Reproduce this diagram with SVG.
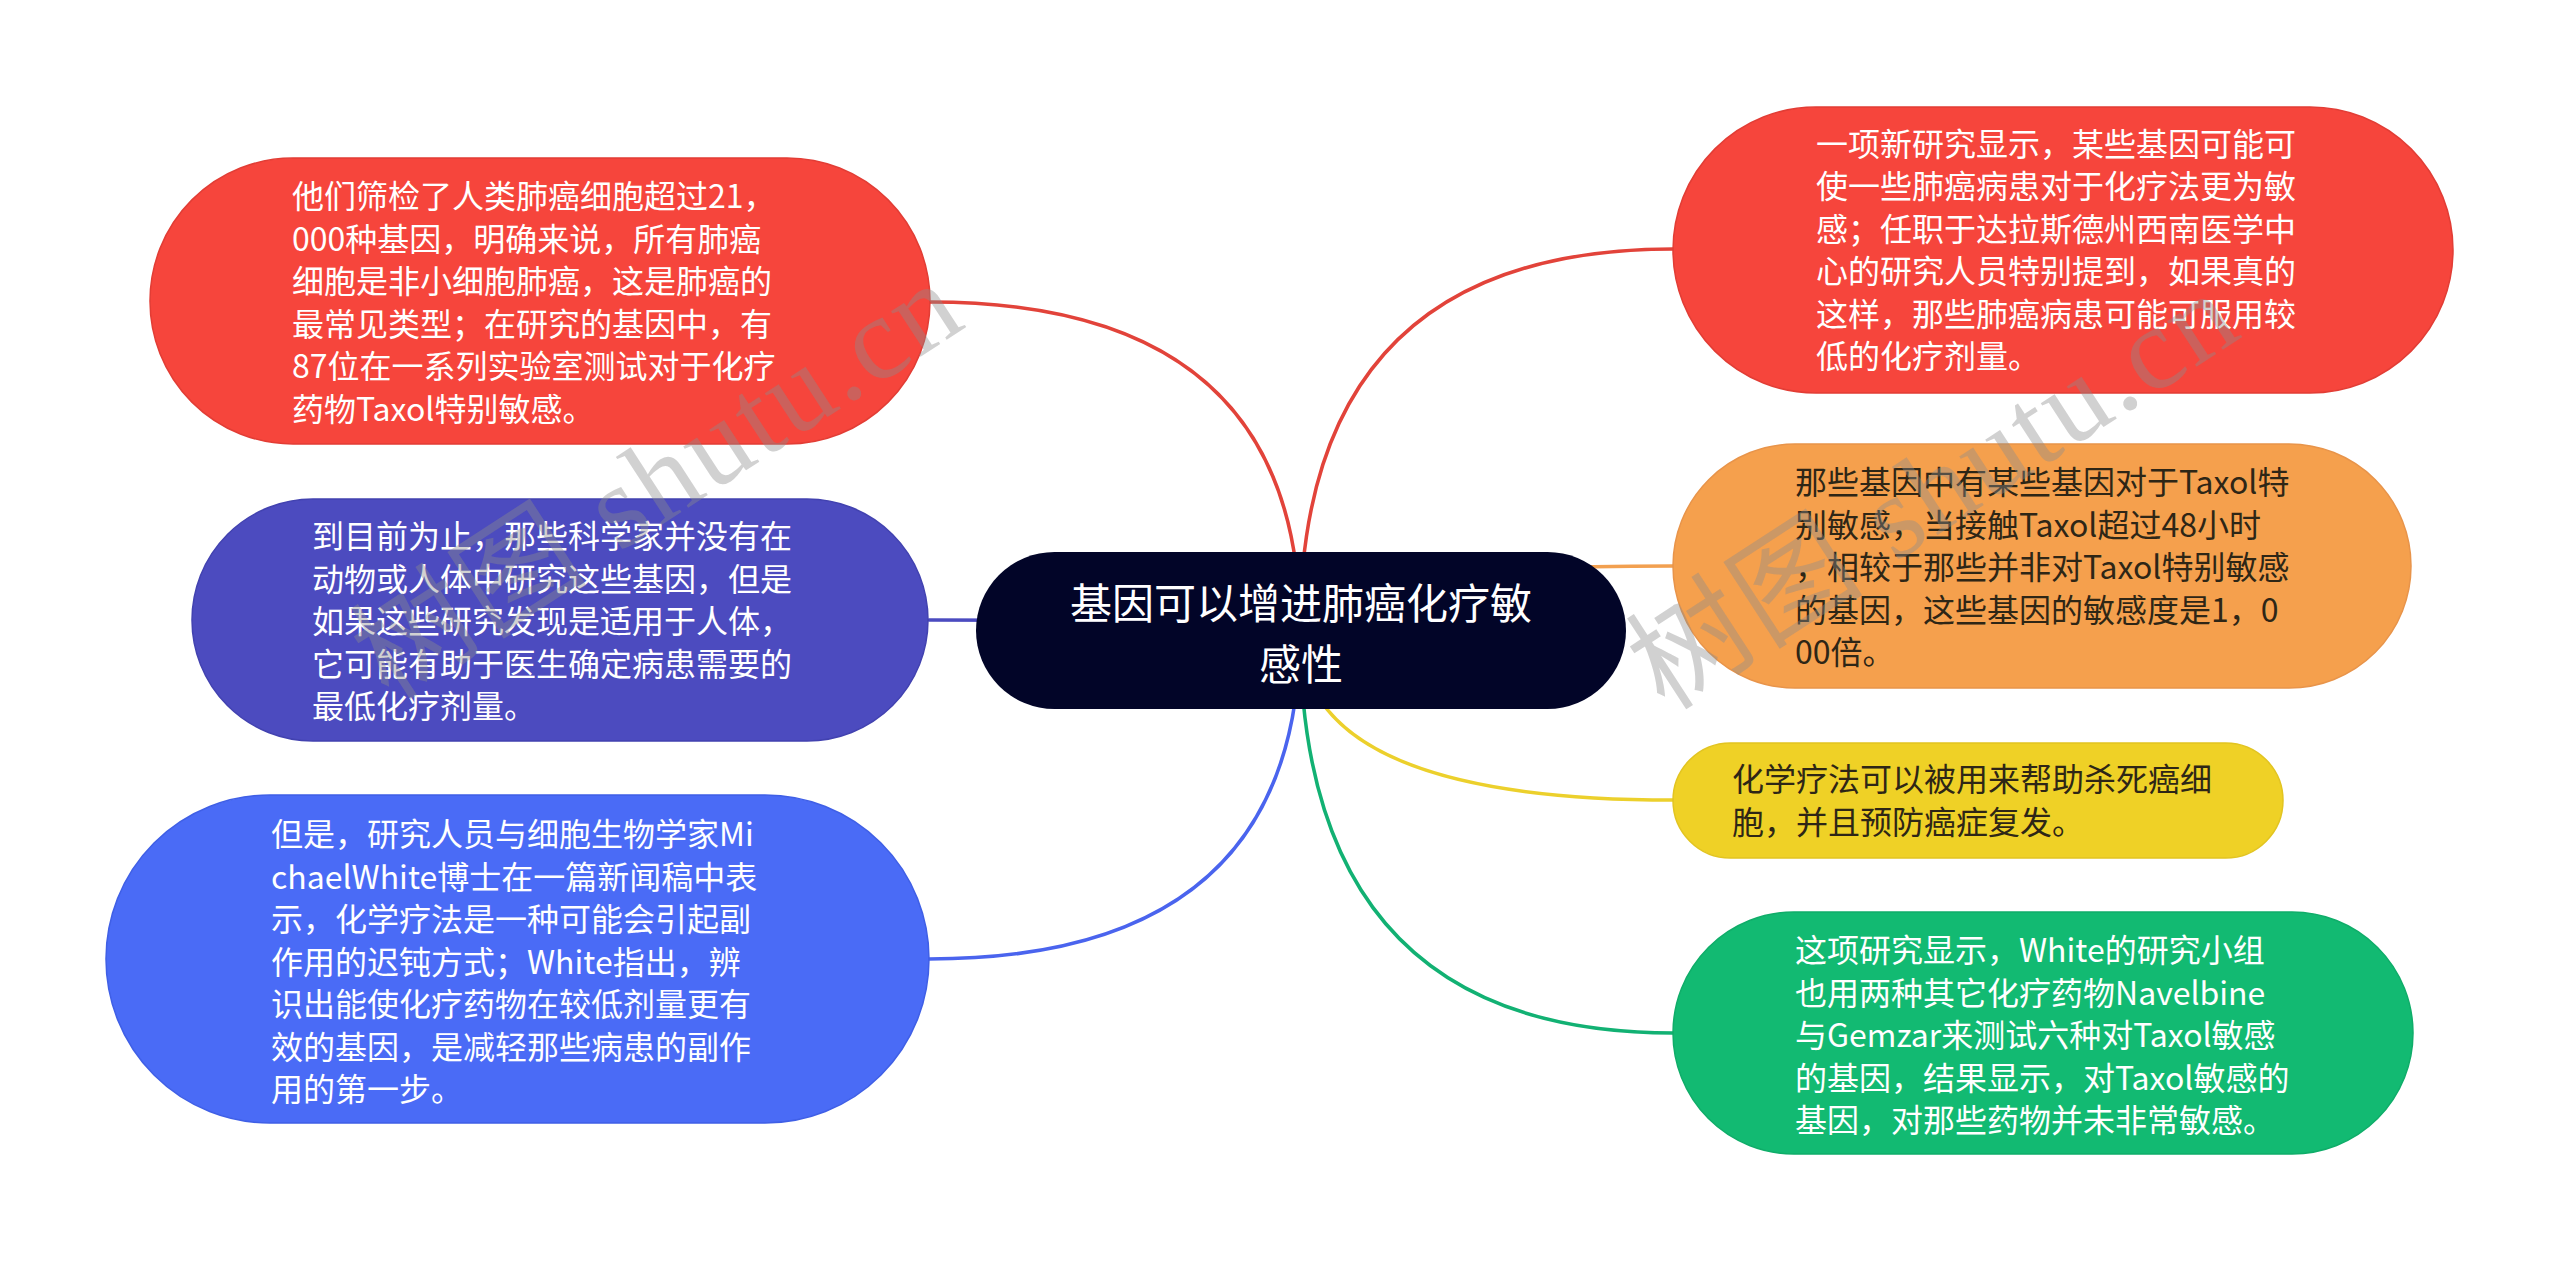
<svg xmlns="http://www.w3.org/2000/svg" width="2560" height="1262" viewBox="0 0 2560 1262">
<style>
.t{font-family:"Noto Sans CJK SC","Noto Sans",sans-serif;font-size:32px}
.w{fill:#ffffff}
.d{fill:#2e2616}
.c{font-family:"Noto Sans CJK SC","Noto Sans",sans-serif;font-size:42px;fill:#ffffff;text-anchor:middle}
.link{fill:none;stroke-width:3.5;stroke-linecap:round}
.wm{font-family:"Liberation Serif","Noto Sans CJK SC",serif;font-size:118px;fill:#8c8c8c;fill-opacity:0.4}
</style>
<rect width="2560" height="1262" fill="#ffffff"/>
<g id="connectors">
<path class="link" stroke="#e2433a" d="M 930 302 Q 1300 302 1300 630"/>
<path class="link" stroke="#4b4bc0" d="M 929 620 Q 1300 620 1300 630"/>
<path class="link" stroke="#4a64ee" d="M 929 959 Q 1300 959 1300 630"/>
<path class="link" stroke="#e2433a" d="M 1673 249 Q 1300 249 1300 630"/>
<path class="link" stroke="#f2a050" d="M 1673 566 Q 1300 566 1300 630"/>
<path class="link" stroke="#ecd02c" d="M 1673 800 Q 1300 800 1300 630"/>
<path class="link" stroke="#12b173" d="M 1673 1033 Q 1300 1033 1300 630"/>
</g>
<g id="node-left-1">
<rect x="150" y="158" width="780" height="286" rx="143" ry="143" fill="#f6453c" stroke="#e23d35" stroke-width="1.5"/>
<text class="t w"><tspan x="292" y="208">他们筛检了人类肺癌细胞超过21，</tspan><tspan x="292" y="250.5">000种基因，明确来说，所有肺癌</tspan><tspan x="292" y="293">细胞是非小细胞肺癌，这是肺癌的</tspan><tspan x="292" y="335.5">最常见类型；在研究的基因中，有</tspan><tspan x="292" y="378">87位在一系列实验室测试对于化疗</tspan><tspan x="292" y="420.5">药物Taxol特别敏感。</tspan></text>
</g>
<g id="node-left-2">
<rect x="192" y="499" width="736" height="242" rx="121" ry="121" fill="#4c4bbf" stroke="#4242b0" stroke-width="1.5"/>
<text class="t w"><tspan x="312" y="548">到目前为止，那些科学家并没有在</tspan><tspan x="312" y="590.5">动物或人体中研究这些基因，但是</tspan><tspan x="312" y="633">如果这些研究发现是适用于人体，</tspan><tspan x="312" y="675.5">它可能有助于医生确定病患需要的</tspan><tspan x="312" y="718">最低化疗剂量。</tspan></text>
</g>
<g id="node-left-3">
<rect x="106" y="795" width="823" height="328" rx="164" ry="164" fill="#4a6bf6" stroke="#3f5fe6" stroke-width="1.5"/>
<text class="t w"><tspan x="271" y="846">但是，研究人员与细胞生物学家Mi</tspan><tspan x="271" y="888.5">chaelWhite博士在一篇新闻稿中表</tspan><tspan x="271" y="931">示，化学疗法是一种可能会引起副</tspan><tspan x="271" y="973.5">作用的迟钝方式；White指出，辨</tspan><tspan x="271" y="1016">识出能使化疗药物在较低剂量更有</tspan><tspan x="271" y="1058.5">效的基因，是减轻那些病患的副作</tspan><tspan x="271" y="1101">用的第一步。</tspan></text>
</g>
<g id="node-center">
<rect x="976" y="552" width="650" height="157" rx="78.5" ry="78.5" fill="#020528"/>
<text class="c"><tspan x="1301" y="619">基因可以增进肺癌化疗敏</tspan><tspan x="1301" y="680">感性</tspan></text>
</g>
<g id="node-right-1">
<rect x="1673" y="107" width="780" height="286" rx="143" ry="143" fill="#f6453c" stroke="#e23d35" stroke-width="1.5"/>
<text class="t w"><tspan x="1816" y="155.5">一项新研究显示，某些基因可能可</tspan><tspan x="1816" y="198">使一些肺癌病患对于化疗法更为敏</tspan><tspan x="1816" y="240.5">感；任职于达拉斯德州西南医学中</tspan><tspan x="1816" y="283">心的研究人员特别提到，如果真的</tspan><tspan x="1816" y="325.5">这样，那些肺癌病患可能可服用较</tspan><tspan x="1816" y="368">低的化疗剂量。</tspan></text>
</g>
<g id="node-right-2">
<rect x="1673" y="444" width="738" height="244" rx="122" ry="122" fill="#f5a04d" stroke="#e8944a" stroke-width="1.5"/>
<text class="t d"><tspan x="1795" y="494">那些基因中有某些基因对于Taxol特</tspan><tspan x="1795" y="536.5">别敏感，当接触Taxol超过48小时</tspan><tspan x="1795" y="579">，相较于那些并非对Taxol特别敏感</tspan><tspan x="1795" y="621.5">的基因，这些基因的敏感度是1，0</tspan><tspan x="1795" y="664">00倍。</tspan></text>
</g>
<g id="node-right-3">
<rect x="1673" y="743" width="610" height="115" rx="57.5" ry="57.5" fill="#efd126" stroke="#e2c420" stroke-width="1.5"/>
<text class="t d"><tspan x="1732" y="791">化学疗法可以被用来帮助杀死癌细</tspan><tspan x="1732" y="833.5">胞，并且预防癌症复发。</tspan></text>
</g>
<g id="node-right-4">
<rect x="1673" y="912" width="740" height="242" rx="121" ry="121" fill="#12ba72" stroke="#0fad69" stroke-width="1.5"/>
<text class="t w"><tspan x="1795" y="962">这项研究显示，White的研究小组</tspan><tspan x="1795" y="1004.5">也用两种其它化疗药物Navelbine</tspan><tspan x="1795" y="1047">与Gemzar来测试六种对Taxol敏感</tspan><tspan x="1795" y="1089.5">的基因，结果显示，对Taxol敏感的</tspan><tspan x="1795" y="1132">基因，对那些药物并未非常敏感。</tspan></text>
</g>
<g id="watermark">
<text class="wm" transform="translate(389 702) rotate(-33)" textLength="690" lengthAdjust="spacing">树图 shutu.cn</text>
<text class="wm" transform="translate(1665 712) rotate(-33)" textLength="690" lengthAdjust="spacing">树图 shutu.cn</text>
</g>
</svg>
